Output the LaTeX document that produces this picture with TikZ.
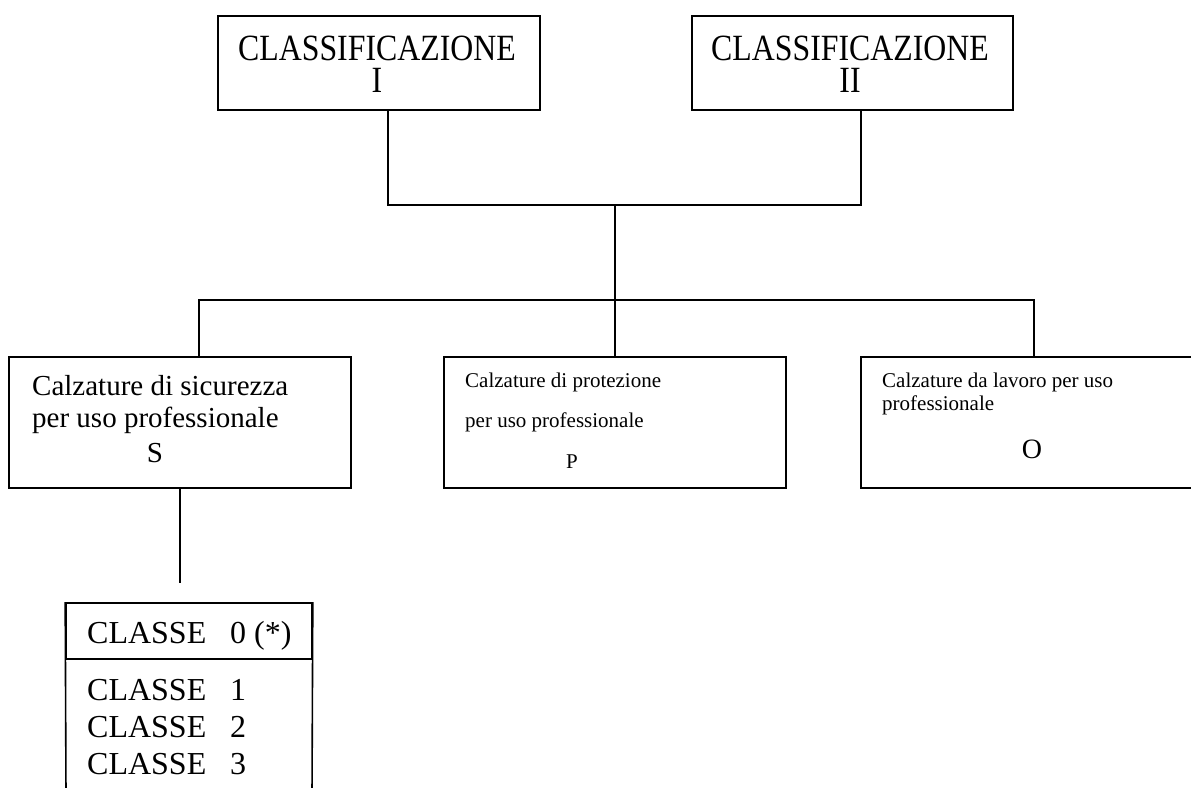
\documentclass[tikz,border=0pt]{standalone}
\usepackage{fontspec}
\usepackage{graphicx}
\setmainfont{Liberation Serif}
\begin{document}
\begin{tikzpicture}[x=1pt,y=-1pt,
  box/.style={draw, line width=1.6pt, inner sep=0pt, rectangle},
  lnk/.style={line width=1.6pt},
  txt/.style={inner sep=0pt, anchor=base west},
  ctxt/.style={inner sep=0pt, anchor=base},
  ttl/.style={inner sep=0pt, anchor=center, align=center, font=\fontsize{37}{32}\selectfont},
  fS/.style={font=\fontsize{29}{33}\selectfont},
  fP/.style={font=\fontsize{21}{24}\selectfont},
  fO/.style={font=\fontsize{28}{32}\selectfont},
  fC/.style={font=\fontsize{32}{37}\selectfont}]
\clip (0,0) rectangle (1191,787);
% top boxes
\node[box, minimum width=322pt, minimum height=94pt] (c1) at (379,63) {};
\node[box, minimum width=321pt, minimum height=94pt] (c2) at (852.5,63) {};
\node[ttl] (c1t) at (377,64.5) {\scalebox{0.86}[1]{CLASSIFICAZIONE}\\\scalebox{0.86}[1]{I}};
\node[ttl] (c2t) at (850,64.5) {\scalebox{0.86}[1]{CLASSIFICAZIONE}\\\scalebox{0.86}[1]{II}};
% junctions
\coordinate (j1) at (615,205);
\coordinate (j2) at (615,300);
% second row
\node[box, minimum width=342pt, minimum height=131pt] (S) at (180,422.5) {};
\node[box, minimum width=342pt, minimum height=131pt] (P) at (615,422.5) {};
\node[box, minimum width=342pt, minimum height=131pt] (O) at (1032,422.5) {};
\node[txt, fS] (s1) at (32,395) {Calzature di sicurezza};
\node[txt, fS] (s2) at (32,427) {per uso professionale};
\node[ctxt, fS] (s3) at (155,462) {S};
\node[txt, fP] (p1) at (465,387) {Calzature di protezione};
\node[txt, fP] (p2) at (465,427) {per uso professionale};
\node[ctxt, fP] (p3) at (572,468) {P};
\node[txt, fP] (o1) at (882,387) {Calzature da lavoro per uso};
\node[txt, fP] (o2) at (882,410) {professionale};
\node[ctxt, fO] (o3) at (1032,458) {O};
% connectors
\draw[lnk] ([xshift=9pt]c1.south) |- (j1) -| ([xshift=8.5pt]c2.south);
\draw[lnk] (j1) -- (P.north);
\draw[lnk] ([xshift=19pt]S.north) |- (j2) -| ([xshift=2pt]O.north);
\coordinate (sEnd) at (180,583);
\draw[lnk] (S.south) -- (sEnd);
% classes box
\node[box, minimum width=246pt, minimum height=56pt] (cls) at (189,631) {};
\node[txt, fC] (k0) at (87,643) {\makebox[143pt][l]{CLASSE}0 (*)};
\node[txt, fC] (k1) at (87,700) {\makebox[143pt][l]{CLASSE}1};
\node[txt, fC] (k2) at (87,737) {\makebox[143pt][l]{CLASSE}2};
\node[txt, fC] (k3) at (87,774) {\makebox[143pt][l]{CLASSE}3};
\coordinate (clL) at (66,795);
\coordinate (clR) at (312,795);
\draw[lnk] (cls.north west) -- (clL);
\draw[lnk] (cls.north east) -- (clR);
\end{tikzpicture}
\end{document}
